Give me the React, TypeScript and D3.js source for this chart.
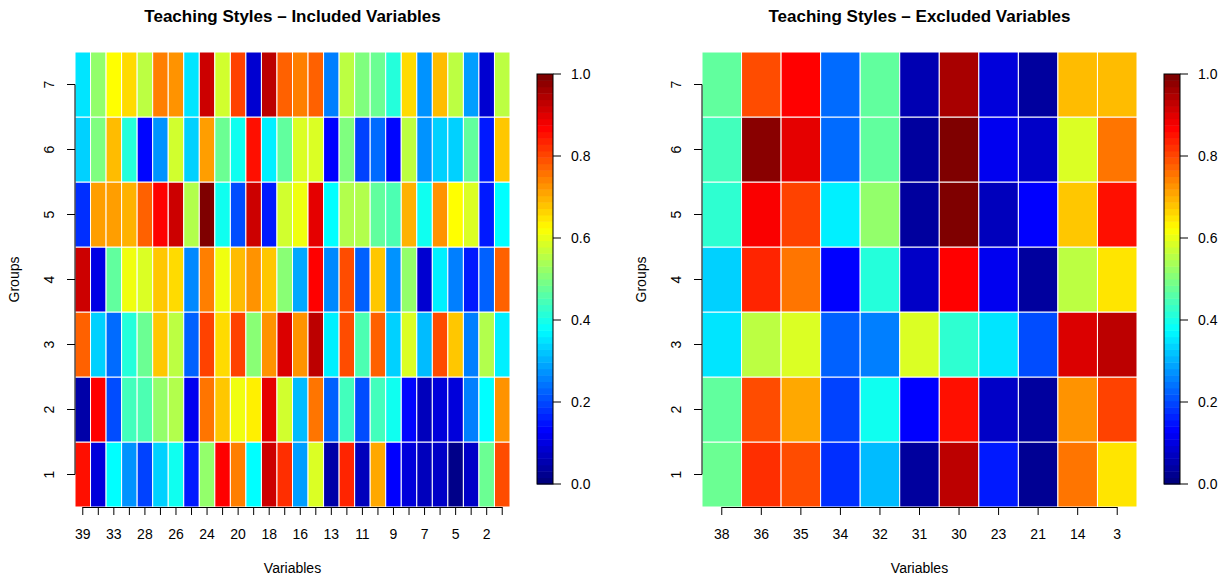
import React from "react";
import * as d3 from "d3";

// variables, in the order they appear on the x axis
const includedVars = [39, 37, 33, 29, 28, 27, 26, 25, 24, 22, 20, 19, 18, 17, 16, 15, 13, 12, 11, 10, 9, 8, 7, 6, 5, 4, 2, 1];
const excludedVars = [38, 36, 35, 34, 32, 31, 30, 23, 21, 14, 3];
const groups = [1, 2, 3, 4, 5, 6, 7];

// values per group (group 1 first), one value per variable above
const includedValues = [
  [0.86, 0.09, 0.375, 0.27, 0.19, 0.33, 0.39, 0.15, 0.52, 0.875, 0.75, 0.375, 0.925, 0.83, 0.28, 0.59, 0.04, 0.84, 0.06, 0.71, 0.125, 0.09, 0.06, 0.07, 0.01, 0.07, 0.48, 0.8],
  [0.04, 0.875, 0.2, 0.44, 0.45, 0.52, 0.55, 0.11, 0.76, 0.68, 0.61, 0.64, 0.9, 0.58, 0.31, 0.76, 0.22, 0.44, 0.2, 0.44, 0.39, 0.13, 0.06, 0.09, 0.09, 0.25, 0.375, 0.73],
  [0.78, 0.33, 0.23, 0.41, 0.48, 0.68, 0.56, 0.22, 0.81, 0.66, 0.81, 0.51, 0.73, 0.91, 0.73, 0.94, 0.36, 0.8, 0.45, 0.78, 0.33, 0.59, 0.31, 0.8, 0.68, 0.25, 0.55, 0.36],
  [0.925, 0.1, 0.47, 0.61, 0.59, 0.68, 0.66, 0.26, 0.75, 0.61, 0.69, 0.73, 0.68, 0.51, 0.29, 0.875, 0.26, 0.8, 0.22, 0.68, 0.27, 0.52, 0.08, 0.36, 0.25, 0.15, 0.22, 0.78],
  [0.17, 0.72, 0.72, 0.7, 0.78, 0.875, 0.925, 0.55, 1.0, 0.39, 0.2, 0.925, 0.15, 0.58, 0.61, 0.9, 0.375, 0.55, 0.55, 0.47, 0.45, 0.7, 0.39, 0.73, 0.625, 0.59, 0.15, 0.375],
  [0.33, 0.5, 0.69, 0.41, 0.13, 0.27, 0.58, 0.33, 0.72, 0.48, 0.39, 0.86, 0.36, 0.47, 0.59, 0.59, 0.125, 0.5, 0.19, 0.23, 0.13, 0.56, 0.27, 0.33, 0.33, 0.47, 0.15, 0.68],
  [0.35, 0.52, 0.625, 0.66, 0.56, 0.75, 0.73, 0.35, 0.925, 0.58, 0.81, 0.08, 0.94, 0.78, 0.75, 0.78, 0.25, 0.56, 0.5, 0.48, 0.41, 0.66, 0.27, 0.69, 0.56, 0.28, 0.08, 0.56],
];

const excludedValues = [
  [0.48, 0.83, 0.8, 0.17, 0.31, 0.03, 0.94, 0.15, 0.02, 0.76, 0.65],
  [0.47, 0.8, 0.71, 0.19, 0.39, 0.125, 0.86, 0.07, 0.03, 0.73, 0.81],
  [0.35, 0.56, 0.59, 0.22, 0.25, 0.59, 0.42, 0.35, 0.2, 0.91, 0.94],
  [0.33, 0.84, 0.76, 0.125, 0.41, 0.07, 0.875, 0.11, 0.03, 0.56, 0.65],
  [0.42, 0.88, 0.81, 0.36, 0.52, 0.03, 1.0, 0.06, 0.125, 0.68, 0.86],
  [0.44, 0.99, 0.9, 0.23, 0.47, 0.03, 1.0, 0.11, 0.07, 0.59, 0.76],
  [0.47, 0.8, 0.875, 0.23, 0.47, 0.05, 0.96, 0.09, 0.03, 0.69, 0.69],
];

const legendTicks = [0, 0.2, 0.4, 0.6, 0.8, 1.0];

const jetStops = ["#00007F", "#0000FF", "#007FFF", "#00FFFF", "#7FFF7F", "#FFFF00", "#FF7F00", "#FF0000", "#7F0000"];
const jet = d3
  .scaleLinear<string>()
  .domain(d3.range(jetStops.length).map((i) => i / (jetStops.length - 1)))
  .range(jetStops)
  .interpolate(d3.interpolateRgb)
  .clamp(true);

const nBands = 64;
const font = "'Liberation Sans', Arial, Helvetica, sans-serif";

const Panel = ({ dx, title, vars, values, everyOther }) => {
  const x0 = 75 + dx;
  const x1 = 510 + dx;
  const top = 52;
  const bottom = 507;

  const x = d3.scaleBand().domain(vars.map(String)).range([x0, x1]);
  const y = d3.scaleBand().domain(groups.slice().reverse().map(String)).range([top, bottom]);
  const xc = (v) => x(String(v)) + x.bandwidth() / 2;
  const yc = (g) => y(String(g)) + y.bandwidth() / 2;

  const cb = d3.scaleLinear().domain([0, 1]).range([484, 74]);
  const cbX = 537 + dx;
  const cbW = 16;

  return (
    <g fontFamily={font}>
      <text x={(x0 + x1) / 2} y={22} textAnchor="middle" fontWeight="bold" fontSize={17} fill="#000">
        {title}
      </text>

      {groups.map((g, gi) =>
        vars.map((v, vi) => (
          <rect
            key={`${g}-${v}`}
            x={x(String(v))}
            y={y(String(g))}
            width={x.bandwidth()}
            height={y.bandwidth()}
            fill={jet(values[gi][vi])}
            stroke="#fff"
            strokeWidth={1}
          />
        ))
      )}

      {/* y axis */}
      <line x1={x0} x2={x0} y1={yc(1)} y2={yc(7)} stroke="#000" />
      {groups.map((g) => (
        <g key={g}>
          <line x1={x0 - 8} x2={x0} y1={yc(g)} y2={yc(g)} stroke="#000" />
          <text transform={`translate(${x0 - 21},${yc(g)}) rotate(-90)`} textAnchor="middle" fontSize={14} fill="#000">
            {g}
          </text>
        </g>
      ))}
      <text transform={`translate(${x0 - 56},${(top + bottom) / 2}) rotate(-90)`} textAnchor="middle" fontSize={14} fill="#000">
        Groups
      </text>

      {/* x axis */}
      <line x1={xc(vars[0])} x2={xc(vars[vars.length - 1])} y1={bottom + 0.5} y2={bottom + 0.5} stroke="#000" />
      {vars.map((v, i) => (
        <g key={v}>
          <line x1={xc(v)} x2={xc(v)} y1={bottom} y2={bottom + 8} stroke="#000" />
          {(!everyOther || i % 2 === 0) && (
            <text x={xc(v)} y={539} textAnchor="middle" fontSize={14} fill="#000">
              {v}
            </text>
          )}
        </g>
      ))}
      <text x={(x0 + x1) / 2} y={573} textAnchor="middle" fontSize={14} fill="#000">
        Variables
      </text>

      {/* colour key */}
      {d3.range(nBands).map((i) => (
        <rect
          key={i}
          x={cbX}
          y={cb((i + 1) / nBands)}
          width={cbW}
          height={cb(i / nBands) - cb((i + 1) / nBands) + 0.5}
          fill={jet(i / (nBands - 1))}
        />
      ))}
      <rect x={cbX} y={cb(1)} width={cbW} height={cb(0) - cb(1)} fill="none" stroke="#000" />
      {legendTicks.map((t) => (
        <g key={t}>
          <line x1={cbX + cbW} x2={cbX + cbW + 8} y1={cb(t)} y2={cb(t)} stroke="#000" />
          <text x={cbX + cbW + 18} y={cb(t) + 5} fontSize={14} fill="#000">
            {d3.format(".1f")(t)}
          </text>
        </g>
      ))}
    </g>
  );
};

export default function App() {
  return (
    <svg width={1226} height={581} style={{ position: "absolute", left: 0, top: 0, background: "#fff" }}>
      <Panel dx={0} title="Teaching Styles – Included Variables" vars={includedVars} values={includedValues} everyOther />
      <Panel dx={627} title="Teaching Styles – Excluded Variables" vars={excludedVars} values={excludedValues} everyOther={false} />
    </svg>
  );
}
